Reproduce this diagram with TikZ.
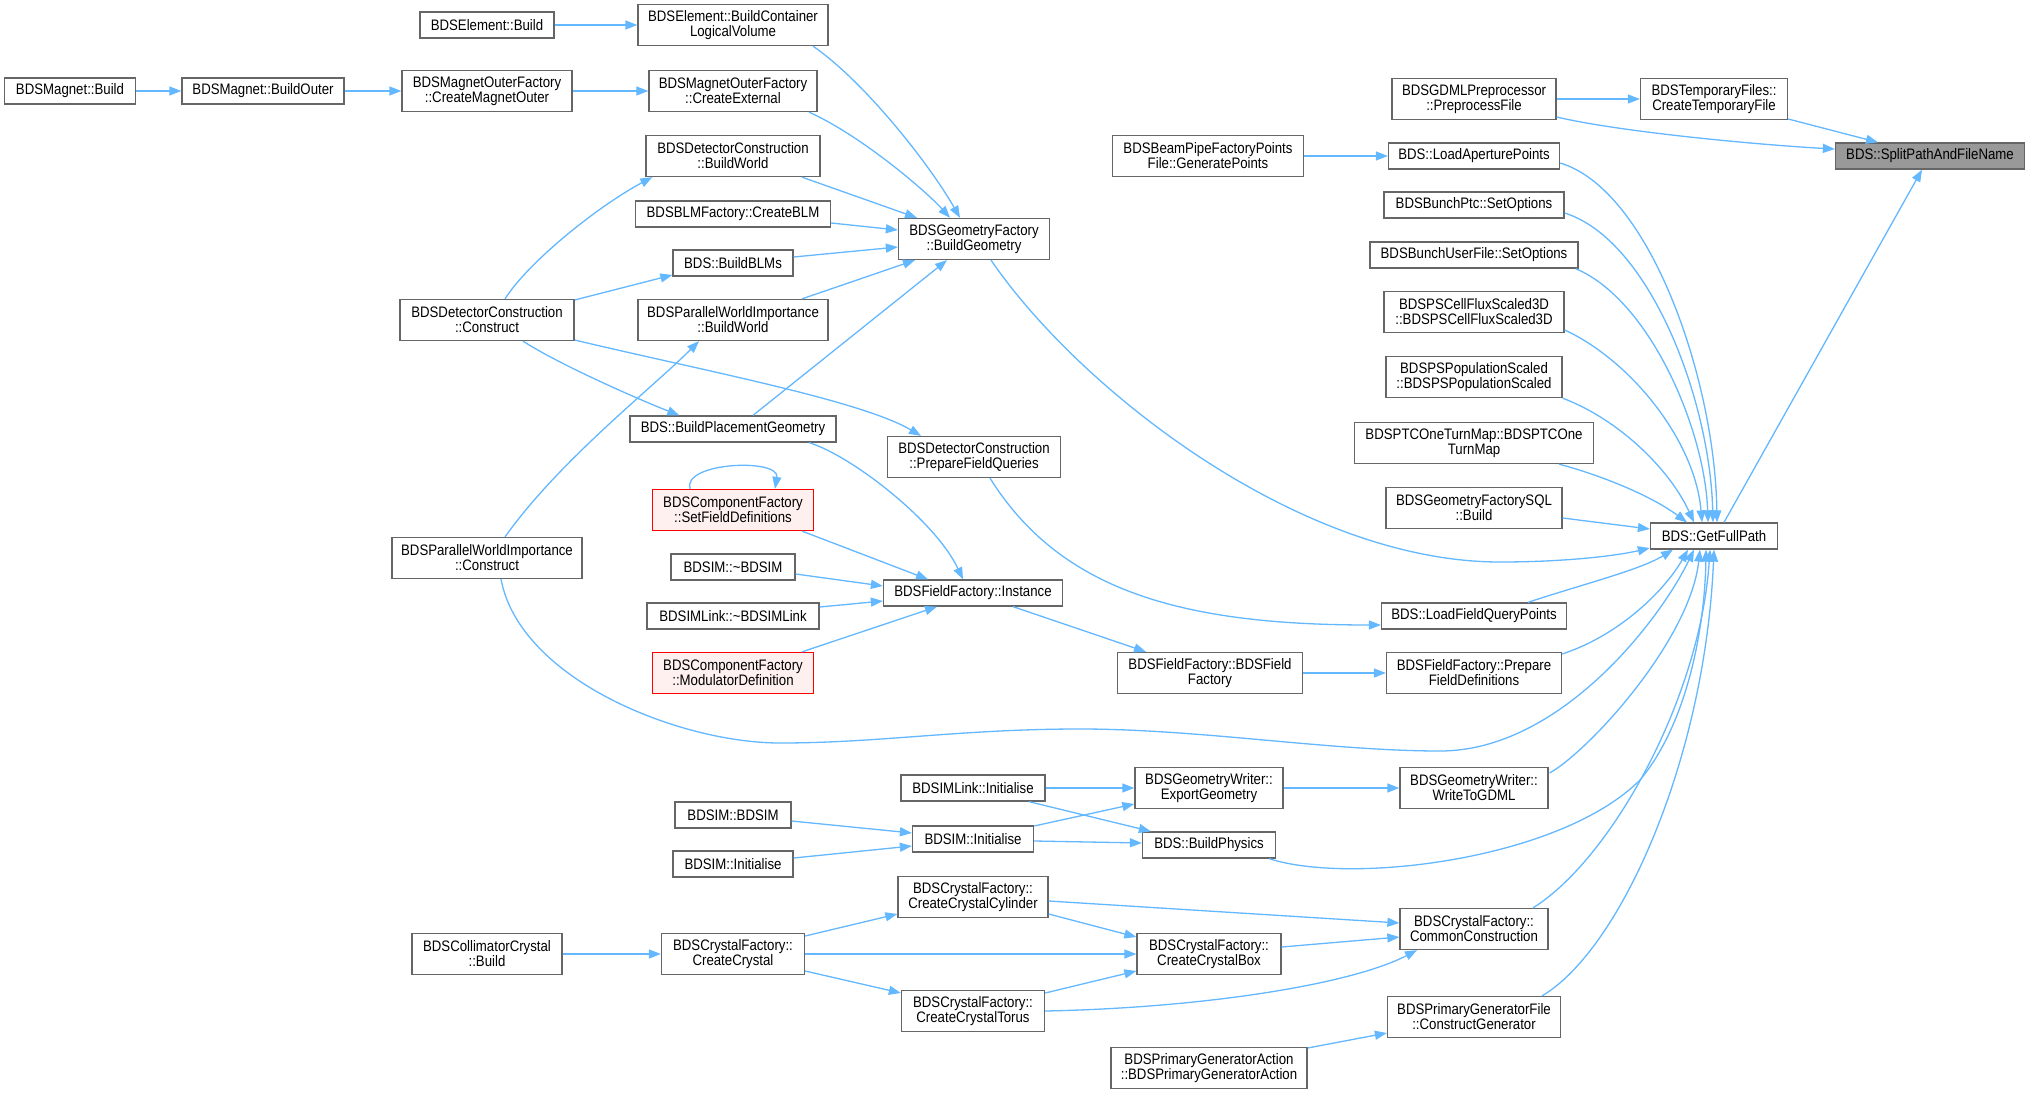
\documentclass[tikz,border=0pt]{standalone}
\usepackage{fontspec}
\setmainfont{Liberation Sans}[FakeStretch=0.87]
\usetikzlibrary{arrows.meta,calc}
\definecolor{eb}{HTML}{63B8FF}
\definecolor{bd}{HTML}{666666}
\definecolor{hl}{HTML}{999999}
\definecolor{rf}{HTML}{FFF0F0}
\begin{document}
\begin{tikzpicture}[x=1pt,y=-1pt,
 fn/.style={draw=bd,line width=1.3pt,fill=white,align=center,inner sep=0pt,font=\fontsize{15.2pt}{15pt}\selectfont},
 one/.style={fn,minimum height=26pt},
 two/.style={fn,minimum height=41pt},
 redn/.style={draw=red,fill=rf},
 hi/.style={fill=hl},
 ed/.style={draw=eb,line width=1.3pt,-{Triangle[length=12pt,width=9pt]}}]
\fill[white] (0,0) rectangle (2031,1094);
\useasboundingbox (0,0) rectangle (2031,1094);
% column 1
\node[one,minimum width=131pt] (magBuild) at (70,91) {BDSMagnet::Build};
\node[one,minimum width=162pt] (magOuter) at (263,91) {BDSMagnet::BuildOuter};
% column 2
\node[two,minimum width=170pt] (createMO) at (487,91) {BDSMagnetOuterFactory\\::CreateMagnetOuter};
\node[one,minimum width=134pt] (elBuild) at (487,25) {BDSElement::Build};
\node[two,minimum width=174pt] (dcConstruct) at (487,320) {BDSDetectorConstruction\\::Construct};
\node[two,minimum width=190pt] (pwiConstruct) at (487,558) {BDSParallelWorldImportance\\::Construct};
\node[two,minimum width=150pt] (collBuild) at (487,954) {BDSCollimatorCrystal\\::Build};
% column 3
\node[two,minimum width=190pt] (bclv) at (733,25) {BDSElement::BuildContainer\\LogicalVolume};
\node[two,minimum width=168pt] (createExt) at (733,91) {BDSMagnetOuterFactory\\::CreateExternal};
\node[two,minimum width=174pt] (dcBuildWorld) at (733,156) {BDSDetectorConstruction\\::BuildWorld};
\node[one,minimum width=195pt] (createBLM) at (733,214) {BDSBLMFactory::CreateBLM};
\node[one,minimum width=120pt] (buildBLMs) at (733,263) {BDS::BuildBLMs};
\node[two,minimum width=190pt] (pwiBuildWorld) at (733,320) {BDSParallelWorldImportance\\::BuildWorld};
\node[one,minimum width=206pt] (bpg) at (733,429) {BDS::BuildPlacementGeometry};
\node[two,redn,minimum width=161pt] (setFD) at (733,510) {BDSComponentFactory\\::SetFieldDefinitions};
\node[one,minimum width=124pt] (dBDSIM) at (733,567) {BDSIM::\textasciitilde BDSIM};
\node[one,minimum width=172pt] (dBDSIMLink) at (733,616) {BDSIMLink::\textasciitilde BDSIMLink};
\node[two,redn,minimum width=161pt] (modDef) at (733,673) {BDSComponentFactory\\::ModulatorDefinition};
\node[one,minimum width=116pt] (bdsimCtor) at (733,815) {BDSIM::BDSIM};
\node[one,minimum width=120pt] (bdsimInitL) at (733,864) {BDSIM::Initialise};
\node[two,minimum width=143pt] (createCrystal) at (733,954) {BDSCrystalFactory::\\CreateCrystal};
% column 4
\node[two,minimum width=151pt] (buildGeom) at (974,239) {BDSGeometryFactory\\::BuildGeometry};
\node[two,minimum width=173pt] (pfq) at (974,457) {BDSDetectorConstruction\\::PrepareFieldQueries};
\node[one,minimum width=179pt] (ffInstance) at (973,593) {BDSFieldFactory::Instance};
\node[one,minimum width=144pt] (bdsimLinkInit) at (973,788) {BDSIMLink::Initialise};
\node[one,minimum width=121pt] (bdsimInitM) at (973,839) {BDSIM::Initialise};
\node[two,minimum width=150pt] (ccCyl) at (973,897) {BDSCrystalFactory::\\CreateCrystalCylinder};
\node[two,minimum width=143pt] (ccTorus) at (973,1011) {BDSCrystalFactory::\\CreateCrystalTorus};
% column 5
\node[two,minimum width=191pt] (genPoints) at (1208,156) {BDSBeamPipeFactoryPoints\\File::GeneratePoints};
\node[two,minimum width=185pt] (ffCtor) at (1210,673) {BDSFieldFactory::BDSField\\Factory};
\node[two,minimum width=148pt] (exportGeom) at (1209,788) {BDSGeometryWriter::\\ExportGeometry};
\node[one,minimum width=133pt] (buildPhys) at (1209,845) {BDS::BuildPhysics};
\node[two,minimum width=144pt] (ccBox) at (1209,954) {BDSCrystalFactory::\\CreateCrystalBox};
\node[two,minimum width=196pt] (pga) at (1209,1068) {BDSPrimaryGeneratorAction\\::BDSPrimaryGeneratorAction};
% column 6
\node[two,minimum width=164pt] (preprocess) at (1474,99) {BDSGDMLPreprocessor\\::PreprocessFile};
\node[one,minimum width=171pt] (loadAp) at (1474,156) {BDS::LoadAperturePoints};
\node[one,minimum width=180pt] (bunchPtc) at (1474,205) {BDSBunchPtc::SetOptions};
\node[one,minimum width=208pt] (bunchUser) at (1474,255) {BDSBunchUserFile::SetOptions};
\node[two,minimum width=180pt] (psCell) at (1474,312) {BDSPSCellFluxScaled3D\\::BDSPSCellFluxScaled3D};
\node[two,minimum width=176pt] (psPop) at (1474,377) {BDSPSPopulationScaled\\::BDSPSPopulationScaled};
\node[two,minimum width=239pt] (ptc) at (1474,443) {BDSPTCOneTurnMap::BDSPTCOne\\TurnMap};
\node[two,minimum width=176pt] (sql) at (1474,508) {BDSGeometryFactorySQL\\::Build};
\node[one,minimum width=185pt] (loadFQ) at (1474,616) {BDS::LoadFieldQueryPoints};
\node[two,minimum width=175pt] (prepFD) at (1474,673) {BDSFieldFactory::Prepare\\FieldDefinitions};
\node[two,minimum width=148pt] (writeGDML) at (1474,788) {BDSGeometryWriter::\\WriteToGDML};
\node[two,minimum width=148pt] (common) at (1474,929) {BDSCrystalFactory::\\CommonConstruction};
\node[two,minimum width=173pt] (constructGen) at (1474,1017) {BDSPrimaryGeneratorFile\\::ConstructGenerator};
% column 7, 8
\node[two,minimum width=147pt] (tempFile) at (1714,99) {BDSTemporaryFiles::\\CreateTemporaryFile};
\node[one,minimum width=127pt] (getFullPath) at (1714,536) {BDS::GetFullPath};
\node[one,hi,minimum width=189pt] (split) at (1930,156) {BDS::SplitPathAndFileName};
% edges
\draw[ed] (elBuild.east) -- (bclv.west);
\draw[ed] (magBuild.east) -- (magOuter.west);
\draw[ed] (magOuter.east) -- (createMO.west);
\draw[ed] (createMO.east) -- (createExt.west);
\draw[ed] ($(bclv.south)+(80,0)$) .. controls (865,82) and (930,165) .. ($(buildGeom.north)+(-14,0)$);
\draw[ed] ($(createExt.south)+(76,0)$) .. controls (860,135) and (925,190) .. ($(buildGeom.north)+(-24,0)$);
\draw[ed] ($(dcBuildWorld.south)+(69,0)$) -- ($(buildGeom.north)+(-57,0)$);
\draw[ed] ($(createBLM.east)+(0,9)$) -- ($(buildGeom.west)+(0,-9)$);
\draw[ed] ($(buildBLMs.east)+(0,-6)$) -- ($(buildGeom.west)+(0,8)$);
\draw[ed] ($(pwiBuildWorld.north)+(69,0)$) -- ($(buildGeom.south)+(-59,0)$);
\draw[ed] ($(bpg.north)+(20,0)$) -- ($(buildGeom.south)+(-27,0)$);
\draw[ed] ($(dcConstruct.north)+(18,0)$) .. controls (530,260) and (600,205) .. ($(dcBuildWorld.south west)+(7,0)$);
\draw[ed] ($(dcConstruct.east)+(0,-20)$) -- ($(buildBLMs.west)+(0,12)$);
\draw[ed] ($(dcConstruct.south)+(36,0)$) .. controls (560,365) and (640,400) .. ($(bpg.north west)+(50,0)$);
\draw[ed] ($(dcConstruct.east)+(0,20)$) .. controls (700,370) and (860,400) .. ($(pfq.north)+(-53,0)$);
\draw[ed] ($(pwiConstruct.north)+(18,0)$) .. controls (560,460) and (650,390) .. ($(pwiBuildWorld.south)+(-34,0)$);
\draw[ed] ($(pwiConstruct.south)+(14,0)$) .. controls (520,680) and (680,743) .. (780,743) .. controls (880,743) and (960,729) .. (1080,729) .. controls (1200,729) and (1330,751) .. (1440,751) .. controls (1560,751) and (1660,620) .. ($(getFullPath.south)+(-20,0)$);
\draw[ed] ($(bpg.south)+(76,0)$) .. controls (850,455) and (935,520) .. ($(ffInstance.north)+(-10,0)$);
\draw[ed] ($(setFD.north)+(-43,0)$) .. controls (682,462) and (780,458) .. ($(setFD.north)+(42,0)$);
\draw[ed] ($(setFD.south east)+(-12,0)$) -- ($(ffInstance.north)+(-45,0)$);
\draw[ed] ($(dBDSIM.east)+(0,7)$) -- ($(ffInstance.west)+(0,-7)$);
\draw[ed] ($(dBDSIMLink.east)+(0,-9)$) -- ($(ffInstance.west)+(0,8)$);
\draw[ed] ($(modDef.north)+(69,0)$) -- ($(ffInstance.south)+(-36,0)$);
\draw[ed] ($(ffInstance.south)+(40,0)$) -- ($(ffCtor.north)+(-64,0)$);
\draw[ed] ($(pfq.south)+(16,0)$) .. controls (1060,590) and (1180,625) .. ($(loadFQ.west)+(0,9)$);
\draw[ed] (ffCtor.east) -- (prepFD.west);
\draw[ed] ($(buildGeom.south)+(17,0)$) .. controls (1080,390) and (1300,562) .. (1500,562) .. controls (1570,562) and (1620,555) .. ($(getFullPath.west)+(0,12)$);
\draw[ed] (genPoints.east) -- (loadAp.west);
\draw[ed] (preprocess.east) -- (tempFile.west);
\draw[ed] ($(preprocess.east)+(0,18)$) .. controls (1620,132) and (1760,145) .. ($(split.west)+(0,-7)$);
\draw[ed] ($(tempFile.east)+(0,20)$) -- ($(split.north)+(-52,0)$);
\draw[ed] ($(getFullPath.north)+(10,0)$) -- ($(split.south)+(-8,0)$);
\draw[ed] ($(loadAp.east)+(0,7)$) .. controls (1650,190) and (1715,380) .. ($(getFullPath.north)+(3,0)$);
\draw[ed] ($(bunchPtc.east)+(0,8)$) .. controls (1650,240) and (1710,400) .. ($(getFullPath.north)+(-1,0)$);
\draw[ed] ($(bunchUser.south east)+(-3,0)$) .. controls (1650,300) and (1705,430) .. ($(getFullPath.north)+(-6,0)$);
\draw[ed] ($(psCell.east)+(0,18)$) .. controls (1630,360) and (1695,440) .. ($(getFullPath.north)+(-12,0)$);
\draw[ed] (psPop.south east) .. controls (1620,420) and (1670,470) .. ($(getFullPath.north)+(-20,0)$);
\draw[ed] ($(ptc.south)+(85,0)$) .. controls (1600,475) and (1650,495) .. ($(getFullPath.north)+(-27,0)$);
\draw[ed] ($(sql.east)+(0,10)$) -- ($(getFullPath.west)+(0,-7)$);
\draw[ed] ($(loadFQ.north)+(54,0)$) .. controls (1580,585) and (1640,570) .. ($(getFullPath.south)+(-41,0)$);
\draw[ed] ($(prepFD.east)+(0,-19)$) .. controls (1620,635) and (1665,590) .. ($(getFullPath.south)+(-26,0)$);
\draw[ed] ($(writeGDML.east)+(1,-15)$) .. controls (1590,750) and (1690,640) .. ($(getFullPath.south)+(-14,0)$);
\draw[ed] ($(buildPhys.south east)+(-7,0)$) .. controls (1350,885) and (1560,860) .. (1640,780) .. controls (1690,720) and (1705,620) .. ($(getFullPath.south)+(-8,0)$);
\draw[ed] ($(common.north)+(59,0)$) .. controls (1610,860) and (1700,700) .. ($(getFullPath.south)+(-4,0)$);
\draw[ed] ($(constructGen.north)+(68,0)$) .. controls (1620,950) and (1705,760) .. (getFullPath.south);
\draw[ed] (bdsimLinkInit.east) -- (exportGeom.west);
\draw[ed] ($(bdsimLinkInit.south)+(56,0)$) -- ($(buildPhys.north west)+(9,0)$);
\draw[ed] ($(bdsimInitM.east)+(0,-13)$) -- ($(exportGeom.west)+(0,16)$);
\draw[ed] ($(bdsimInitM.east)+(0,2)$) -- ($(buildPhys.west)+(0,-2)$);
\draw[ed] (exportGeom.east) -- (writeGDML.west);
\draw[ed] ($(bdsimCtor.east)+(0,6)$) -- ($(bdsimInitM.west)+(0,-6)$);
\draw[ed] ($(bdsimInitL.east)+(0,-6)$) -- ($(bdsimInitM.west)+(0,7)$);
\draw[ed] ($(createCrystal.east)+(0,-18)$) -- ($(ccCyl.west)+(0,17)$);
\draw[ed] (createCrystal.east) -- (ccBox.west);
\draw[ed] ($(createCrystal.east)+(0,17)$) -- ($(ccTorus.west)+(0,-18)$);
\draw[ed] ($(ccCyl.east)+(0,17)$) -- ($(ccBox.west)+(0,-17)$);
\draw[ed] ($(ccCyl.east)+(0,4)$) -- ($(common.west)+(0,-6)$);
\draw[ed] ($(ccTorus.east)+(0,-18)$) -- ($(ccBox.west)+(0,17)$);
\draw[ed] (ccTorus.east) .. controls (1200,1008) and (1350,985) .. ($(common.south)+(-57,0)$);
\draw[ed] ($(ccBox.east)+(0,-7)$) -- ($(common.west)+(0,8)$);
\draw[ed] (collBuild.east) -- (createCrystal.west);
\draw[ed] ($(pga.east)+(0,-20)$) -- ($(constructGen.west)+(0,16)$);
\end{tikzpicture}
\end{document}
